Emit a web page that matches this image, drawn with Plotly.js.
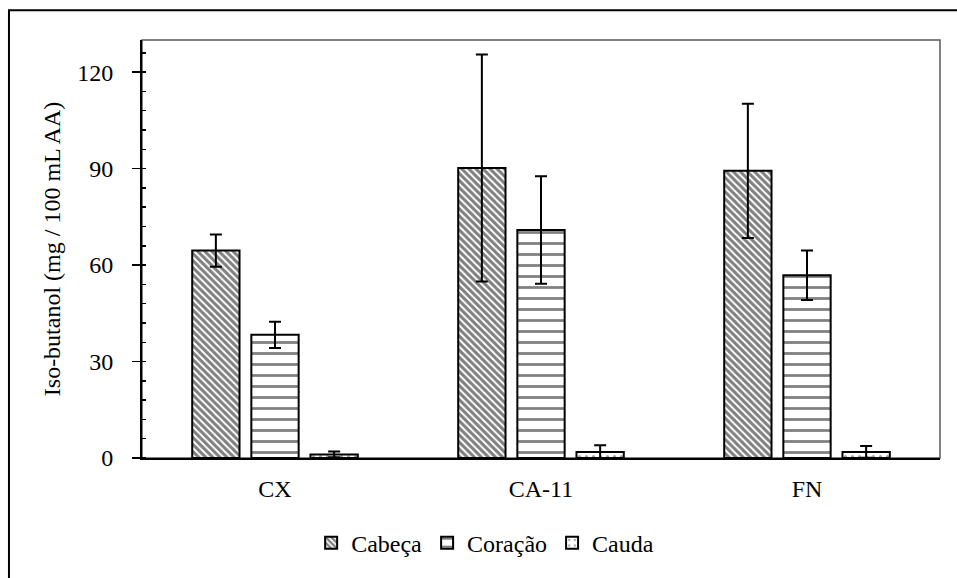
<!DOCTYPE html>
<html>
<head>
<meta charset="utf-8">
<script src="https://cdn.plot.ly/plotly-3.0.1.min.js"></script>
<style>
html,body{margin:0;padding:0;background:#fff;}
#chart{width:957px;height:578px;}
</style>
</head>
<body>
<div id="chart"></div>
<script>
var categories = ['CX', 'CA-11', 'FN'];
var seriesNames = ['Cabeça', 'Coração', 'Cauda'];
var cabeca = [64.5, 90.2, 89.3];
var cabecaErr = [5.0, 35.3, 20.9];
var coracao = [38.3, 70.9, 56.8];
var coracaoErr = [4.1, 16.7, 7.7];
var cauda = [1.1, 1.9, 1.9];
var caudaErr = [0.9, 2.1, 1.8];
var yTicks = [0, 30, 60, 90, 120];

var FONT = "Liberation Serif";

function mk(name, y, err, pattern) {
  return {
    type: 'bar', name: name, x: categories, y: y,
    marker: {color: 'white', line: {color: 'black', width: 2}, pattern: pattern},
    error_y: {type: 'data', array: err, visible: true, color: 'black', thickness: 2, width: 6}
  };
}

var data = [
  mk(seriesNames[0], cabeca, cabecaErr, {shape: '\\', size: 5, solidity: 0.6, fgcolor: 'black', bgcolor: 'white', fillmode: 'overlay'}),
  mk(seriesNames[1], coracao, coracaoErr, {shape: '-', size: 11, solidity: 0.25, fgcolor: 'black', bgcolor: 'white', fillmode: 'overlay'}),
  mk(seriesNames[2], cauda, caudaErr, {shape: '.', size: 7, solidity: 0.15, fgcolor: '#444', bgcolor: 'white', fillmode: 'overlay'})
];

var layout = {
  width: 957, height: 578,
  margin: {l: 142, r: 17, t: 39.5, b: 116},
  paper_bgcolor: 'white', plot_bgcolor: 'white',
  font: {family: FONT, size: 24, color: 'black'},
  barmode: 'group', bargap: 0.333, bargroupgap: 0.2,
  showlegend: true,
  legend: {orientation: 'h', x: 0.43, xanchor: 'center', y: -0.2036, yanchor: 'middle',
           font: {family: FONT, size: 24, color: 'black'},
           itemwidth: 30, traceorder: 'normal'},
  xaxis: {type: 'category', showline: true, linecolor: 'black', linewidth: 2,
    ticks: '', showgrid: false, zeroline: false, ticklabelstandoff: 8,
    tickfont: {family: FONT, size: 24, color: 'black'}},
  yaxis: {range: [0, 130], tickvals: yTicks, ticktext: yTicks.map(String),
    showline: true, linecolor: 'black', linewidth: 2,
    ticks: 'outside', ticklen: 8, tickwidth: 1.5, tickcolor: 'black', ticklabelstandoff: 14,
    minor: {dtick: 6, tick0: 0, ticks: 'inside', ticklen: 4, tickwidth: 1.5, tickcolor: 'black'},
    showgrid: false, zeroline: false, tickfont: {family: FONT, size: 24, color: 'black'},
    title: {text: 'Iso-butanol (mg / 100 mL AA)', standoff: 10, font: {family: FONT, size: 24, color: 'black'}}},
  shapes: [
    {type: 'rect', xref: 'paper', yref: 'paper', x0: 0, x1: 1, y0: 0, y1: 1, line: {color: '#595959', width: 1.5}, layer: 'below'},
    {type: 'rect', xref: 'paper', yref: 'paper', x0: -0.1667, x1: 1.1, y0: -0.4, y1: 1.071, line: {color: 'black', width: 2}, layer: 'below'}
  ]
};
Plotly.newPlot('chart', data, layout, {displayModeBar: false, staticPlot: true});
</script>
</body>
</html>
